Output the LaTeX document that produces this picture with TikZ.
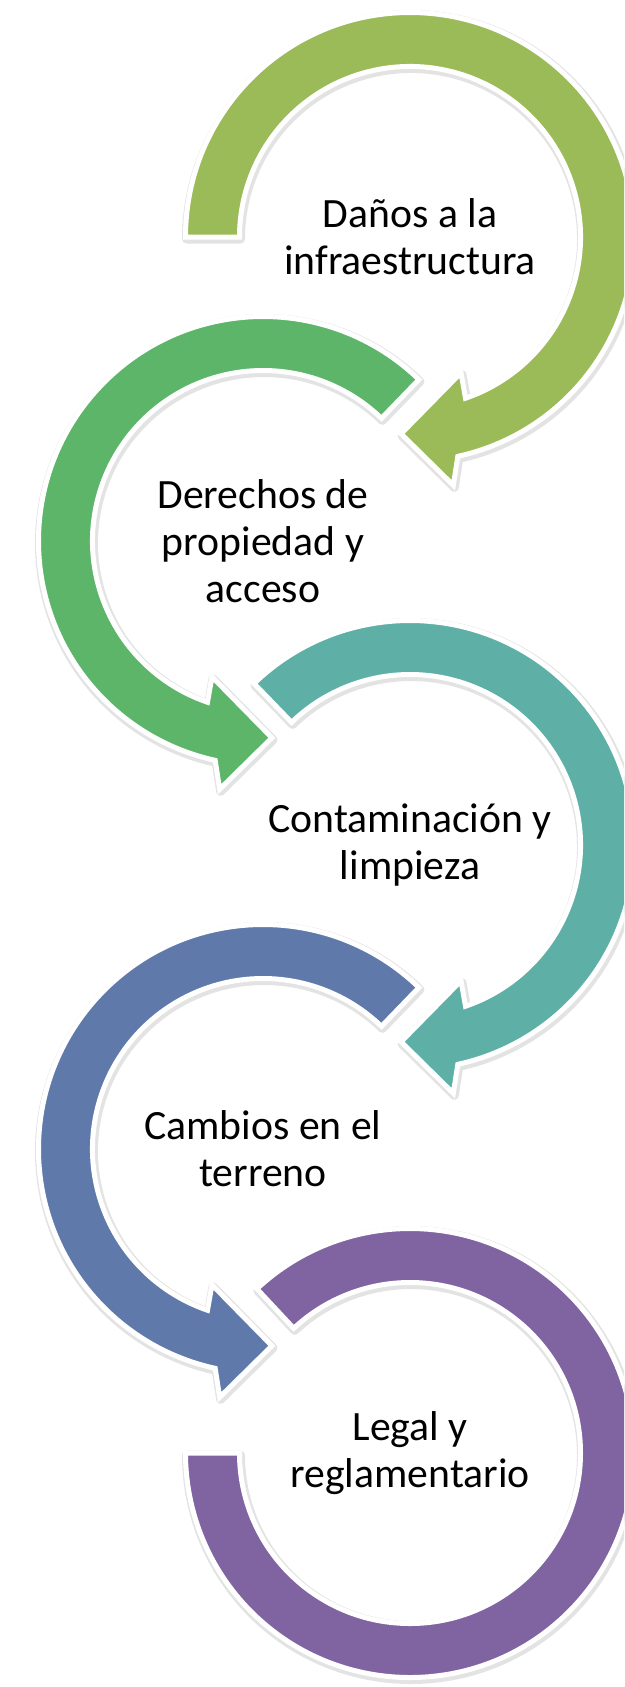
\documentclass[tikz,border=0pt]{standalone}
\usepackage{fontspec}
\setmainfont{Carlito}

\definecolor{arrowone}{HTML}{9BBB59}
\definecolor{arrowtwo}{HTML}{5DB56A}
\definecolor{arrowthree}{HTML}{5EB0A6}
\definecolor{arrowfour}{HTML}{5F7AAA}
\definecolor{arrowfive}{HTML}{8064A2}

% clockwise arrow, head at the lower left; #1 tail angle, #2 style
\newcommand{\cwarrow}[2]{%
  \path[#2] (#1:224.5) arc[start angle=#1, end angle=-77.7, radius=224.5]
    -- (-80.1:252) -- (-92.6:197) -- (-69.4:145) -- (-71:170.5)
    arc[start angle=-71, end angle=#1, radius=170.5] -- cycle;}
% counter-clockwise arrow, head at the lower right
\newcommand{\ccwarrow}[2]{%
  \path[#2] (#1:224.5) arc[start angle=#1, end angle=257.7, radius=224.5]
    -- (260.1:252) -- (272.6:197) -- (249.4:145) -- (251:170.5)
    arc[start angle=251, end angle=#1, radius=170.5] -- cycle;}

\begin{document}
\begin{tikzpicture}[x=1pt,y=1pt,
  arrowshadow/.style={fill=black!11,draw=black!11,line width=9pt,line join=round,shift={(1,-2)}},
  arrowbody/.style={draw=white,line width=5pt,fill=#1},
  label/.style={align=center,inner sep=0pt,font=\fontsize{41.7}{47}\selectfont}]
  \useasboundingbox (0,0) rectangle (624,-1687);
  \clip (0,0) rectangle (624,-1687);

  % shadows first
  \begin{scope}[shift={(410,-237)}]\cwarrow{180}{arrowshadow}\end{scope}
  \begin{scope}[shift={(263,-541)}]\ccwarrow{46}{arrowshadow}\end{scope}
  \begin{scope}[shift={(410,-845)}]\cwarrow{134}{arrowshadow}\end{scope}
  \begin{scope}[shift={(263,-1149)}]\ccwarrow{46}{arrowshadow}\end{scope}
  \begin{scope}[shift={(410,-1453)}]
    \path[arrowshadow] (133:224.5) arc[start angle=133, end angle=-180, radius=224.5]
      -- (180:170.5) arc[start angle=-180, end angle=133, radius=170.5] -- cycle;
  \end{scope}

  % arrows
  \begin{scope}[shift={(410,-237)}]\cwarrow{180}{arrowbody=arrowone}\end{scope}
  \begin{scope}[shift={(263,-541)}]\ccwarrow{46}{arrowbody=arrowtwo}\end{scope}
  \begin{scope}[shift={(410,-845)}]\cwarrow{134}{arrowbody=arrowthree}\end{scope}
  \begin{scope}[shift={(263,-1149)}]\ccwarrow{46}{arrowbody=arrowfour}\end{scope}
  \begin{scope}[shift={(410,-1453)}]
    \path[arrowbody=arrowfive] (133:224.5) arc[start angle=133, end angle=-180, radius=224.5]
      -- (180:170.5) arc[start angle=-180, end angle=133, radius=170.5] -- cycle;
  \end{scope}

  \node[label] (danos) at (410,-237) {Daños a la\\infraestructura};
  \node[label] (derechos) at (263,-541) {Derechos de\\propiedad y\\acceso};
  \node[label] (contaminacion) at (410,-845) {Contaminación y\\limpieza};
  \node[label] (cambios) at (263,-1149) {Cambios en el\\terreno};
  \node[label] (legal) at (410,-1453) {Legal y\\reglamentario};
\end{tikzpicture}
\end{document}
